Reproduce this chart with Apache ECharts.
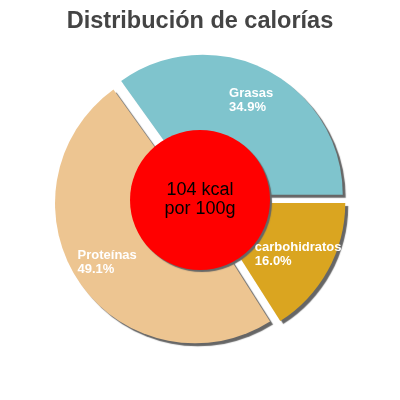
<!DOCTYPE html>
<html>
<head>
<meta charset="utf-8">
<script src="https://cdn.jsdelivr.net/npm/echarts@6/dist/echarts.min.js"></script>
<style>
  html, body { margin: 0; padding: 0; background: #fff; }
  #chart { width: 400px; height: 400px; }
</style>
</head>
<body>
<div id="chart"></div>
<script>
const titleText = "Distribución de calorías";
const categories = ["Grasas", "Proteínas", "carbohidratos"];
const percents = [34.9, 49.1, 16.0];
const sliceColors = ["#7fc4cd", "#edc591", "#daa520"];
const centerLines = ["104 kcal", "por 100g"];

const font = "Liberation Sans, Arial, sans-serif";

function sliceData(withColor) {
  return categories.map(function(name, i) {
    return {
      name: name,
      value: percents[i],
      selected: true,
      itemStyle: withColor ? { color: sliceColors[i] } : { color: "transparent" },
    };
  });
}

const chart = echarts.init(document.getElementById("chart"), null, { renderer: "canvas" });

chart.setOption({
  animation: false,
  title: {
    text: titleText,
    left: "center",
    top: 5,
    textStyle: {
      fontFamily: font,
      fontSize: 23.5,
      fontWeight: "bold",
      color: "#444444",
    },
  },
  series: [
    {
      // coloured slices
      type: "pie",
      center: [200, 200],
      radius: [0, 140],
      startAngle: 0,
      clockwise: false,
      selectedMode: "multiple",
      selectedOffset: 6,
      silent: true,
      label: { show: false },
      labelLine: { show: false },
      itemStyle: {
        shadowColor: "#666666",
        shadowOffsetX: 3,
        shadowOffsetY: 3,
        shadowBlur: 1,
      },
      emphasis: { disabled: true },
      data: sliceData(true),
      z: 1,
    },
    {
      // red centre disc
      type: "pie",
      center: [200, 200],
      radius: [0, 70],
      silent: true,
      labelLine: { show: false },
      itemStyle: {
        color: "#ff0000",
        shadowColor: "#666666",
        shadowOffsetX: 2,
        shadowOffsetY: 2,
        shadowBlur: 1,
      },
      label: {
        show: true,
        position: "center",
        formatter: centerLines.join("\n"),
        fontFamily: font,
        fontSize: 18,
        lineHeight: 19,
        color: "#000000",
      },
      emphasis: { disabled: true },
      data: [{ name: "kcal", value: 1 }],
      z: 2,
    },
    {
      // slice labels only
      type: "pie",
      center: [200, 200],
      radius: [66, 140],
      startAngle: 0,
      clockwise: false,
      selectedMode: "multiple",
      selectedOffset: 6,
      silent: true,
      labelLine: { show: false },
      label: {
        show: true,
        position: "inside",
        overflow: "none",
        formatter: function(p) {
          return "{a|" + p.name + "}\n{a|" + p.value.toFixed(1) + "%}";
        },
        rich: {
          a: {
            align: "left",
            fontFamily: font,
            fontSize: 13,
            fontWeight: "bold",
            lineHeight: 14,
            color: "#ffffff",
          },
        },
      },
      emphasis: { disabled: true },
      data: sliceData(false),
      z: 3,
    },
  ],
});
</script>
</body>
</html>
